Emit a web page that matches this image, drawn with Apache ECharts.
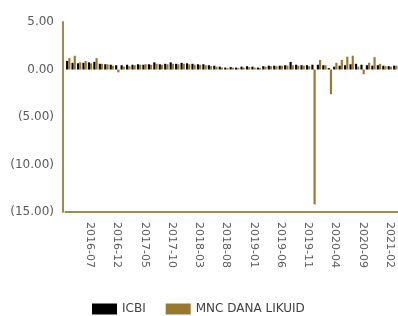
<!DOCTYPE html>
<html>
<head>
<meta charset="utf-8">
<script src="https://cdn.jsdelivr.net/npm/echarts@6/dist/echarts.min.js"></script>
<style>
  html, body { margin: 0; padding: 0; background: #fff; }
  #chart { width: 398px; height: 316px; }
</style>
</head>
<body>
<div id="chart"></div>
<script>
// monthly categories 2016-03 .. 2021-03
var months = [];
for (var y = 2016; y <= 2021; y++) {
  for (var m = 1; m <= 12; m++) {
    if (y == 2016 && m < 3) continue;
    if (y == 2021 && m > 3) break;
    months.push(y + "-" + (m < 10 ? "0" + m : m));
  }
}

// only these get a label under the axis
var shownLabels = ["2016-07", "2016-12", "2017-05", "2017-10", "2018-03", "2018-08",
  "2019-01", "2019-06", "2019-11", "2020-04", "2020-09", "2021-02"];

var icbi = [
  0.9, 0.7, 0.65, 0.7, 0.75, 0.8, 0.6, 0.55, 0.5, 0.45,
  0.45, 0.5, 0.5, 0.55, 0.5, 0.55, 0.75, 0.55, 0.6, 0.75, 0.6, 0.7,
  0.65, 0.6, 0.55, 0.55, 0.45, 0.4, 0.3, 0.2, 0.25, 0.2, 0.3, 0.35,
  0.3, 0.2, 0.35, 0.4, 0.4, 0.4, 0.45, 0.8, 0.5, 0.45, 0.45, 0.5,
  0.5, 0.45, 0.15, 0.3, 0.4, 0.45, 0.55, 0.6, 0.5, 0.45, 0.4, 0.45,
  0.4, 0.35, 0.4
];

var mncDanaLikuid = [
  1.2, 1.45, 0.75, 0.9, 0.65, 1.2, 0.6, 0.55, 0.4, -0.3,
  0.3, 0.35, 0.45, 0.5, 0.55, 0.5, 0.6, 0.5, 0.55, 0.6, 0.55, 0.6,
  0.55, 0.5, 0.5, 0.45, 0.35, 0.3, 0.2, 0.15, 0.2, 0.15, 0.2, 0.25,
  0.2, 0.15, 0.3, 0.35, 0.35, 0.4, 0.4, 0.45, 0.4, 0.4, 0.35, -14.2,
  1.0, 0.45, -2.6, 0.7, 1.0, 1.35, 1.45, 0.3, -0.5, 0.7, 1.3, 0.6,
  0.35, 0.3, 0.4
];

var gold = "#977a30";
var axisGold = "#a08a4e";

var dom = document.getElementById("chart");
var myChart = echarts.init(dom, null, { renderer: "canvas" });

var option = {
  animation: false,
  textStyle: { fontFamily: "DejaVu Sans" },
  legend: {
    left: 87,
    top: 298,
    itemWidth: 25,
    itemHeight: 11,
    itemGap: 20,
    icon: "rect",
    textStyle: { fontSize: 12, color: "#404040", fontFamily: "DejaVu Sans" },
    data: ["ICBI", "MNC DANA LIKUID"]
  },
  grid: { left: 65.5, right: -2, top: 22, bottom: 104 },
  xAxis: {
    type: "category",
    data: months,
    axisLine: { onZero: false, lineStyle: { color: axisGold, width: 2 } },
    axisTick: { show: false },
    axisLabel: {
      rotate: -90,
      margin: 10,
      fontSize: 11,
      color: "#595959",
      interval: function (index, value) {
        return shownLabels.indexOf(value) >= 0;
      }
    }
  },
  yAxis: {
    type: "value",
    min: -15,
    max: 5,
    interval: 5,
    offset: 2.5,
    axisLine: { show: true, lineStyle: { color: axisGold, width: 2 } },
    axisTick: { show: false },
    splitLine: { show: false },
    axisLabel: {
      margin: 9,
      fontSize: 12,
      color: "#595959",
      formatter: function (v) {
        return v < 0 ? "(" + Math.abs(v).toFixed(2) + ")" : v.toFixed(2);
      }
    }
  },
  series: [
    {
      name: "ICBI",
      type: "bar",
      data: icbi,
      barGap: "0%",
      barCategoryGap: "20%",
      itemStyle: { color: "#000000" }
    },
    {
      name: "MNC DANA LIKUID",
      type: "bar",
      data: mncDanaLikuid,
      barGap: "0%",
      barCategoryGap: "20%",
      itemStyle: { color: gold }
    }
  ]
};

myChart.setOption(option);
</script>
</body>
</html>
